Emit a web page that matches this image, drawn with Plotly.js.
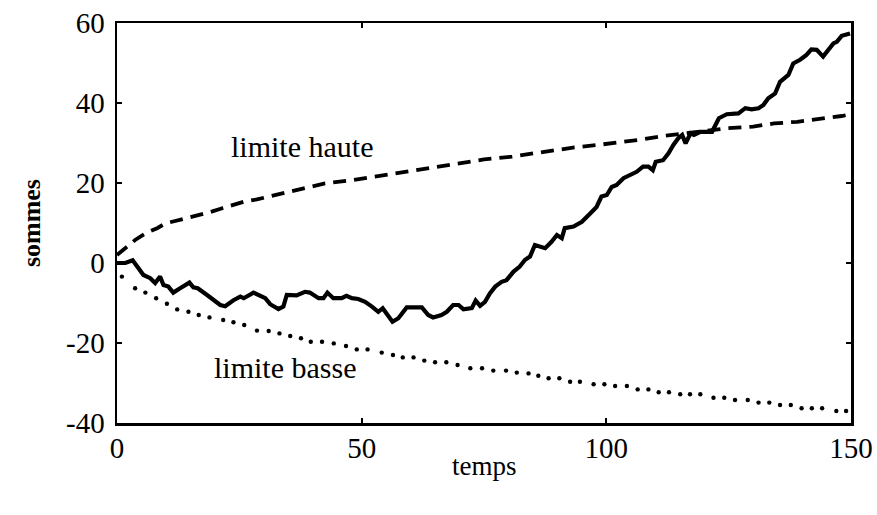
<!DOCTYPE html>
<html><head><meta charset="utf-8">
<script src="https://cdn.plot.ly/plotly-3.0.1.min.js"></script>
<style>html,body{margin:0;padding:0;background:#fff;}#chart{width:877px;height:515px;}</style>
</head><body><div id="chart"></div>
<script>
// Somme cumulée (trait plein)
const sumT = [0,1.7,3.2,5.4,6.8,7.8,8.8,9.5,10.5,11.5,12.9,14.8,15.6,16.5,18.4,21.1,22.1,23.8,25.2,25.9,27.9,28.9,30.3,31.3,33,34,34.7,36.7,38.4,39.4,41.2,42.2,43,44.2,45.9,46.9,48,49.3,50.7,52.1,53.4,54.3,55.4,56.3,57.5,59.2,62.3,63.6,64.6,66.3,67.4,68.7,69.8,70.8,72.5,73.3,74.2,75.2,76.2,77.3,78.6,79.6,81,82.3,83.4,84.4,85.4,86.5,87.5,88.8,89.9,90.9,91.5,93.3,95,96.7,98,99,100.1,101.1,102.1,103.5,104.8,106.2,107.5,108.6,109.5,110.1,111.6,112.7,113.7,114.7,115.5,116.2,117.2,117.9,119.2,121.6,123,124.6,127,128.4,129.7,131.1,132.1,133.1,134.5,135.5,137.2,138.2,139.6,140.9,141.9,143,144.3,145.4,146.4,147.1,148.1,149.8];
const sumV = [0,0,0.7,-3,-3.8,-5,-3.4,-5.5,-5.9,-7.4,-6.3,-4.9,-6.1,-6.3,-8,-10.5,-10.8,-9.3,-8.4,-8.8,-7.4,-8,-8.8,-10.3,-11.5,-10.9,-8,-8.1,-7.2,-7.4,-8.8,-8.8,-7.4,-8.8,-8.8,-8.2,-8.8,-9,-9.7,-10.9,-12.2,-11.3,-13,-14.7,-13.8,-11.1,-11.1,-13,-13.6,-13,-12.2,-10.5,-10.5,-11.6,-11.3,-9.4,-10.7,-9.7,-7.6,-5.9,-4.7,-4.3,-2.2,-0.9,0.8,1.6,4.5,4.1,3.7,5.3,7,6.2,8.7,9.1,10.3,12.4,14,16.6,17,19,19.5,21.2,22,22.8,24.1,24.1,23.2,25.3,25.7,27.4,29.5,31.2,32,29.9,32.4,32,32.8,32.8,36.2,37.2,37.4,38.7,38.4,38.7,39.5,41.2,42.4,45.3,47,49.9,50.8,52,53.4,53.3,51.6,53.3,54.9,55.3,56.8,57.4];

// Limite haute (tirets)
const highT = [0,3.7,5.8,8.2,9.9,12.3,14.3,16.3,18.7,21.5,23.5,25.9,28.6,31,33,35.4,37.4,42.5,48.3,52.8,57.2,61.6,66,70.5,75,80.7,85.1,89.2,93.5,98.2,102.8,107.3,111.7,118,124.9,130,134.3,139,143,148.1,150];
const highV = [2,5.75,7.4,8.7,9.9,10.6,11.2,11.75,12.6,13.7,14.5,15.3,15.9,16.6,17.25,17.8,18.5,19.9,20.75,21.6,22.4,23.25,24.1,24.9,25.9,26.6,27.4,28.1,28.9,29.5,30.1,30.9,31.75,32.7,33.7,34.1,34.9,35.3,35.9,36.75,37.2];

// Limite basse (pointillés)
const lowT = [1,3.7,5.8,8,10.2,12.3,14.6,16.7,18.9,21.7,23.8,26,28.6,31,33.2,35.4,37.6,39.6,41.9,44.3,46.8,49,51.2,54.1,56.4,58.4,60.6,62.8,65,67.3,69.6,72.2,74.6,76.9,79.5,81.7,84.1,86.1,88.2,90.4,92.6,94.6,97.4,99.6,101.8,104.2,106.4,108.6,110.7,112.8,115.1,117.1,119.2,121.9,124.1,126.3,128.9,131.1,133.3,135.5,137.7,139.9,142,144.1,147,149];
const lowV = [-3.4,-6.3,-7.4,-8.8,-10.2,-11.6,-12.2,-13,-13.6,-14.25,-14.8,-15.5,-16.9,-17,-17.6,-18.25,-18.8,-19.7,-19.7,-20.1,-20.75,-21.6,-21.6,-22.4,-23,-23.6,-23.6,-24.4,-24.8,-24.8,-25.5,-26.3,-26.3,-26.9,-26.9,-27.4,-27.6,-28.2,-28.8,-28.8,-29.7,-29.7,-30.3,-30.3,-30.75,-30.75,-31.6,-31.6,-32.3,-32.3,-32.8,-32.8,-32.8,-33.7,-33.7,-34.25,-34.25,-34.9,-34.9,-35.5,-35.5,-36.3,-36.3,-36.3,-37,-37];

const xTicks = [0,50,100,150];
const yTicks = [-40,-20,0,20,40,60];
const xTitle = 'temps';
const yTitle = 'sommes';
const labelHigh = 'limite haute';
const labelLow = 'limite basse';

const serif = 'Liberation Serif, Times New Roman, serif';

const traces = [
  {x: highT, y: highV, mode: 'lines', line: {color: '#000', width: 3.8, dash: '13px,8px'}, hoverinfo: 'skip'},
  {x: lowT, y: lowV, mode: 'markers', marker: {color: '#000', size: 4.4}, hoverinfo: 'skip'},
  {x: sumT, y: sumV, mode: 'lines', line: {color: '#000', width: 4.2, shape: 'linear'}, hoverinfo: 'skip'}
];

const axisCommon = {
  showgrid: false, zeroline: false, showline: true, linecolor: '#000', linewidth: 2.5,
  ticks: 'inside', ticklen: 5, tickwidth: 2, tickcolor: '#000', mirror: 'ticks',
  tickfont: {family: serif, size: 29, color: '#000'}, fixedrange: true
};

const layout = {
  width: 877, height: 515,
  margin: {l: 117, r: 26, t: 23, b: 92, pad: 0},
  paper_bgcolor: '#fff', plot_bgcolor: '#fff',
  showlegend: false,
  xaxis: Object.assign({}, axisCommon, {range: [0, 150], tickvals: xTicks, ticktext: xTicks.map(String), ticklabelstandoff: -2}),
  yaxis: Object.assign({}, axisCommon, {range: [-40, 60], tickvals: yTicks, ticktext: yTicks.map(String), ticklabelstandoff: 4}),
  annotations: [
    {x: 37.9, y: 29.2, xref: 'x', yref: 'y', text: labelHigh, showarrow: false, font: {family: serif, size: 30, color: '#000'}},
    {x: 34.4, y: -26.1, xref: 'x', yref: 'y', text: labelLow, showarrow: false, font: {family: serif, size: 30, color: '#000'}},
    {x: 0.5, y: -0.108, xref: 'paper', yref: 'paper', text: xTitle, showarrow: false, yanchor: 'middle', font: {family: serif, size: 27, color: '#000'}},
    {x: -0.117, y: 0.5, xref: 'paper', yref: 'paper', text: '<b>' + yTitle + '</b>', textangle: -90, showarrow: false, xanchor: 'center', yanchor: 'middle', font: {family: serif, size: 26, color: '#000'}}
  ]
};

Plotly.newPlot('chart', traces, layout, {displayModeBar: false, staticPlot: true});
</script>
</body></html>
